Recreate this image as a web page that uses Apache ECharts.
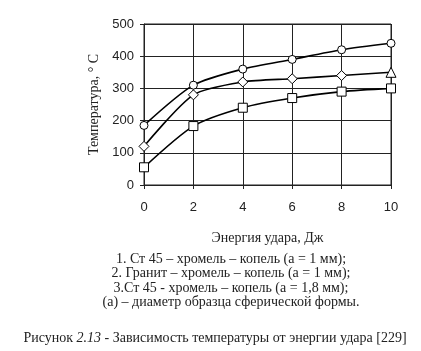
<!DOCTYPE html>
<html><head><meta charset="utf-8">
<script src="https://cdn.jsdelivr.net/npm/echarts@6/dist/echarts.min.js"></script>
<style>html,body{margin:0;padding:0;background:#fff}#c{width:421px;height:351px}</style>
</head><body><div id="c"></div>
<script>
const energy = [0, 2, 4, 6, 8, 10];
const s1 = [185, 310, 360, 390, 420, 440];
const s2 = [120, 280, 320, 330, 340, 350];
const s3 = [55, 183, 240, 270, 290, 300];
const xTicks = { min: 0, max: 10, interval: 2 };
const yTicks = { min: 0, max: 500, interval: 100 };
const legendLines = [
  '1. Ст 45 – хромель – копель (а = 1 мм);',
  '2. Гранит – хромель – копель (а = 1 мм);',
  '3.Ст 45 - хромель – копель (а = 1,8 мм);',
  '(а) – диаметр образца сферической формы.'
];
const serif = '"Liberation Serif", "Times New Roman", serif';
const sans = '"Liberation Sans", Arial, sans-serif';

function mk(vals, lastSym) {
  return vals.map((v, i) => {
    const d = { value: [energy[i], v] };
    if (lastSym && i === vals.length - 1) d.symbol = lastSym;
    return d;
  });
}
const common = {
  type: 'line', smooth: 0.25, showSymbol: true,
  lineStyle: { color: '#000', width: 1.6 },
  itemStyle: { color: '#fff', borderColor: '#000', borderWidth: 1 },
  emphasis: { disabled: true }, animation: false, z: 3
};
const chart = echarts.init(document.getElementById('c'));
chart.setOption({
  animation: false,
  grid: { left: 144, top: 24, width: 247, height: 161, show: true, borderColor: '#222', borderWidth: 1, containLabel: false },
  xAxis: {
    type: 'value', min: xTicks.min, max: xTicks.max, interval: xTicks.interval,
    name: 'Энергия удара, Дж', nameLocation: 'middle', nameGap: 46,
    nameTextStyle: { fontFamily: serif, fontSize: 14, color: '#222' },
    axisLine: { lineStyle: { color: '#222' } },
    axisTick: { show: true, length: 4, lineStyle: { color: '#222' } },
    axisLabel: { fontFamily: sans, fontSize: 13, color: '#222', margin: 16 },
    splitLine: { show: true, lineStyle: { color: '#222', width: 1 } }
  },
  yAxis: {
    type: 'value', min: yTicks.min, max: yTicks.max, interval: yTicks.interval,
    name: 'Температура, ° С', nameLocation: 'middle', nameGap: 40,
    nameTextStyle: { fontFamily: serif, fontSize: 14, color: '#222' },
    axisLine: { show: true, lineStyle: { color: '#222' } },
    axisTick: { show: true, length: 4, lineStyle: { color: '#222' } },
    axisLabel: { fontFamily: sans, fontSize: 13, color: '#222', margin: 10 },
    splitLine: { show: true, lineStyle: { color: '#222', width: 1 } }
  },
  title: [
    {
      text: legendLines.join('\n'), left: 226, top: 247, textAlign: 'center',
      textStyle: { fontFamily: serif, fontSize: 14, fontWeight: 'normal', color: '#222', lineHeight: 14.5, align: 'center' }
    },
    {
      text: '{n|Рисунок }{i|2.13}{n| - Зависимость температуры от энергии удара [229]}',
      left: 210, top: 326, textAlign: 'center',
      textStyle: {
        fontWeight: 'normal',
        rich: {
          n: { fontFamily: serif, fontSize: 14, color: '#222', fontWeight: 'normal' },
          i: { fontFamily: serif, fontSize: 14, color: '#222', fontStyle: 'italic', fontWeight: 'normal' }
        }
      }
    }
  ],
  series: [
    Object.assign({}, common, { data: mk(s1), symbol: 'circle', symbolSize: 8 }),
    Object.assign({}, common, { data: mk(s2, 'triangle'), symbol: 'diamond', symbolSize: 10 }),
    Object.assign({}, common, { data: mk(s3), symbol: 'rect', symbolSize: 9 })
  ]
});
</script></body></html>
